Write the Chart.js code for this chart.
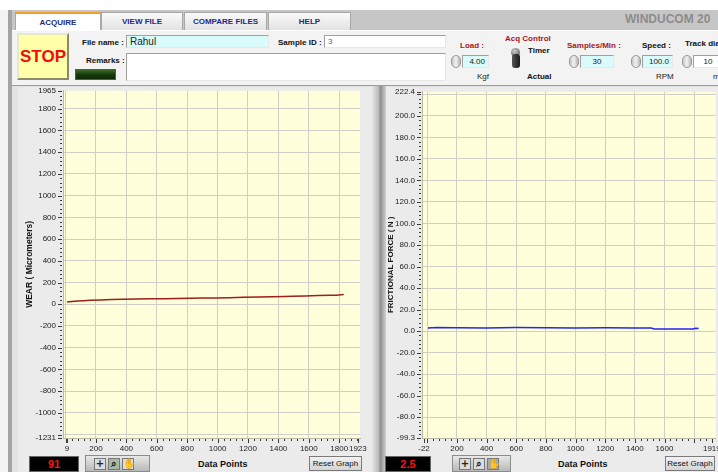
<!DOCTYPE html>
<html>
<head>
<meta charset="utf-8">
<script src="https://cdn.jsdelivr.net/npm/chart.js@4.4.1/dist/chart.umd.min.js"></script>
<style>
  html, body { margin: 0; padding: 0; }
  body { width: 718px; height: 472px; position: relative; overflow: hidden; background: #fff;
         font-family: "Liberation Sans", Arial, sans-serif; }
  .abs { position: absolute; box-sizing: border-box; }
  .tab { position: absolute; top: 12px; height: 18px; font: bold 8px "Liberation Sans", Arial, sans-serif;
         color: #1d2a8a; text-align: center; line-height: 17px; border: 1px solid #a8a8a8; border-bottom: none;
         background: linear-gradient(#fafafa, #e2e2e2); box-sizing: border-box; }
  .lbl { position: absolute; font: bold 8px "Liberation Sans", Arial, sans-serif; color: #111; white-space: nowrap; }
  .red { color: #a8141c; }
  .small { position: absolute; font: 8px "Liberation Sans", Arial, sans-serif; color: #222; white-space: nowrap; }
  .field { position: absolute; border: 1px solid #a0a0a0; border-right-color: #e8e8e8; border-bottom-color: #e8e8e8;
           background: #fff; box-sizing: border-box; font: 8px "Liberation Sans", Arial, sans-serif; color: #222;
           padding: 1px 3px; white-space: nowrap; overflow: hidden; }
  .cyan { background: #d9fbfb; }
  .spin { position: absolute; width: 10px; height: 13px; border-radius: 5px; background: linear-gradient(90deg, #c8c8c8, #f2f2f2, #b4b4b4);
          border: 1px solid #9a9a9a; box-sizing: border-box; }
  .panel { position: absolute; background: #ebebeb; }
  .digit { position: absolute; background: #000; color: #ff1010; font: bold 11px "Liberation Sans", Arial, sans-serif;
           text-align: center; line-height: 15px; border: 1px solid #666; box-sizing: border-box; }
  .tools { position: absolute; height: 17px; background: linear-gradient(#e8e8e8, #b8b8b8); border: 1px solid #8c8c8c; box-sizing: border-box; }
  .tool { position: absolute; top: 2px; width: 12px; height: 12px; border: 1px solid #777; background: #dcdcdc; box-sizing: border-box;
          font: bold 10px "DejaVu Sans", sans-serif; line-height: 10px; text-align: center; color: #222; }
  .btn { position: absolute; height: 15px; background: linear-gradient(#f2f2f2, #d4d4d4); border: 1px solid #7a7a7a;
         font: 8px "Liberation Sans", Arial, sans-serif; color: #111; text-align: center; line-height: 13px; box-sizing: border-box; }
  canvas { position: absolute; }
</style>
</head>
<body>
<!-- window frame -->
<div class="abs" style="left:0;top:10px;width:8px;height:462px;background:#f3f3f3;"></div>
<div class="abs" style="left:8px;top:10px;width:4px;height:462px;background:#a4a4a4;"></div>
<div class="abs" style="left:12px;top:10px;width:706px;height:20px;background:#c6c6c6;"></div>
<div class="abs" style="left:12px;top:30px;width:706px;height:56px;background:#f3f3f3;border-top:1px solid #fff;border-bottom:1px solid #9c9c9c;"></div>
<div class="abs" style="left:12px;top:86px;width:706px;height:386px;background:#e2e2e2;"></div>

<!-- tabs -->
<div class="tab" style="left:15px;width:86px;background:#fff;border-top:2px solid #f0a028;">ACQUIRE</div>
<div class="tab" style="left:101px;width:82px;">VIEW FILE</div>
<div class="tab" style="left:184px;width:83px;">COMPARE FILES</div>
<div class="tab" style="left:268px;width:83px;">HELP</div>
<div class="lbl" style="left:625px;top:12px;font-size:12px;color:#8c8c8c;">WINDUCOM 20</div>

<!-- controls -->
<div class="abs" style="left:17px;top:33px;width:52px;height:47px;background:#ffffa8;border:2px solid #8a8a6a;border-top-color:#e8e8c8;border-left-color:#e8e8c8;
  color:#f40b0b;font:bold 17px 'Liberation Sans',Arial,sans-serif;text-align:center;line-height:43px;">STOP</div>
<div class="lbl" style="left:82px;top:38px;">File name :</div>
<div class="field cyan" style="left:126px;top:35px;width:143px;height:13px;font-size:10px;line-height:9px;">Rahul</div>
<div class="lbl" style="left:278px;top:38px;">Sample ID :</div>
<div class="field" style="left:324px;top:35px;width:122px;height:13px;color:#666;line-height:9px;">3</div>
<div class="lbl" style="left:86px;top:56px;">Remarks :</div>
<div class="field" style="left:126px;top:53px;width:320px;height:28px;"></div>
<div class="abs" style="left:75px;top:69px;width:41px;height:11px;background:linear-gradient(#3e6a2a,#163a0c 50%,#0e2a06);border:1px solid #555;"></div>

<div class="lbl red" style="left:460px;top:41px;">Load :</div>
<div class="spin" style="left:451px;top:55px;"></div>
<div class="field cyan" style="left:462px;top:55px;width:27px;height:13px;text-align:right;line-height:9px;">4.00</div>
<div class="small" style="left:477px;top:72px;">Kgf</div>

<div class="lbl red" style="left:505px;top:34px;">Acq Control</div>
<div class="abs" style="left:511px;top:48px;width:9px;height:9px;border-radius:5px;background:radial-gradient(circle at 40% 35%,#cfcfcf,#444);"></div>
<div class="abs" style="left:512px;top:54px;width:8px;height:14px;border-radius:3px;background:linear-gradient(90deg,#555,#1a1a1a);"></div>
<div class="lbl" style="left:528px;top:46px;">Timer</div>
<div class="lbl" style="left:527px;top:72px;">Actual</div>

<div class="lbl red" style="left:567px;top:41px;">Samples/Min :</div>
<div class="spin" style="left:569px;top:55px;"></div>
<div class="field cyan" style="left:580px;top:55px;width:34px;height:13px;text-align:center;line-height:9px;">30</div>

<div class="lbl" style="left:642px;top:41px;">Speed :</div>
<div class="spin" style="left:631px;top:55px;"></div>
<div class="field cyan" style="left:642px;top:55px;width:31px;height:13px;text-align:right;line-height:9px;">100.0</div>
<div class="small" style="left:656px;top:72px;">RPM</div>

<div class="lbl" style="left:685px;top:39px;">Track dia</div>
<div class="spin" style="left:682px;top:55px;"></div>
<div class="field" style="left:693px;top:55px;width:30px;height:13px;text-align:center;line-height:9px;">10</div>
<div class="small" style="left:713px;top:72px;">m</div>

<!-- graph panels -->
<div class="panel" style="left:18px;top:87px;width:355px;height:385px;"></div>
<div class="abs" style="left:372px;top:86px;width:14px;height:386px;background:linear-gradient(90deg,#e6e6e6,#bdbdbd 45%,#8e8e8e 60%,#d0d0d0);"></div>
<div class="panel" style="left:386px;top:87px;width:332px;height:385px;"></div>

<canvas id="wearChart" style="left:20px;top:79px;" width="353" height="374"></canvas>
<canvas id="frictionChart" style="left:386px;top:80px;" width="332" height="373"></canvas>

<!-- bottom strips -->
<div class="digit" style="left:29px;top:456px;width:50px;height:16px;">91</div>
<div class="tools" style="left:85px;top:455px;width:65px;">
  <div class="tool" style="left:8px;">+</div><div class="tool" style="left:22px;background:#a6b8a6;">&#8981;</div><div class="tool" style="left:36px;">&#9995;</div>
</div>
<div class="lbl" style="left:198px;top:459px;font-size:9px;">Data Points</div>
<div class="btn" style="left:309px;top:456px;width:53px;">Reset Graph</div>

<div class="digit" style="left:385px;top:456px;width:46px;height:16px;">2.5</div>
<div class="tools" style="left:452px;top:455px;width:59px;">
  <div class="tool" style="left:6px;">+</div><div class="tool" style="left:20px;">&#8981;</div><div class="tool" style="left:34px;background:#a9a9a9;">&#9995;</div>
</div>
<div class="lbl" style="left:558px;top:459px;font-size:9px;">Data Points</div>
<div class="btn" style="left:665px;top:456px;width:50px;">Reset Graph</div>

<script>
// wear graph (left)
var wearX = [9, 40, 80, 120, 160, 230, 300, 380, 470, 560, 650, 730, 820, 900, 990, 1080, 1170, 1270, 1360, 1440, 1490, 1580, 1660, 1740, 1780, 1830];
var wearY = [22, 26, 31, 33, 36, 40, 43, 46, 49, 50, 51, 52, 55, 57, 58, 61, 64, 67, 70, 72, 74, 77, 80, 82, 84, 89];
var wearXLabels = [9, 200, 400, 600, 800, 1000, 1200, 1400, 1600, 1800, 1923];
var wearYLabels = [1965, 1800, 1600, 1400, 1200, 1000, 800, 600, 400, 200, 0, -200, -400, -600, -800, -1000, -1231];

// frictional force graph (right)
var fricX = [5, 60, 200, 400, 600, 800, 1000, 1200, 1400, 1510, 1530, 1700, 1790, 1810, 1830];
var fricY = [3.0, 3.4, 3.1, 3.0, 3.3, 3.1, 3.0, 3.2, 3.0, 2.9, 2.1, 2.0, 2.0, 2.6, 2.5];
var fricXLabels = [-22, 200, 400, 600, 800, 1000, 1200, 1400, 1600, 1919];
var fricYLabels = [222.4, 200, 180, 160, 140, 120, 100, 80, 60, 40, 20, 0, -20, -40, -60, -80, -99.3];

function makeTicks(labels, lo, hi, major, minor) {
  var out = [];
  var first = Math.ceil(lo / minor) * minor;
  for (var v = first; v <= hi + 1e-9; v += minor) {
    var val = Math.round(v * 1000) / 1000;
    var isLab = labels.indexOf(val) >= 0;
    var isGrid = Math.abs(val / major - Math.round(val / major)) < 1e-6;
    out.push({ value: val, lab: isLab, grid: isGrid, big: isLab || isGrid });
  }
  labels.forEach(function (l) {
    if (!out.some(function (t) { return t.value === l; })) out.push({ value: l, lab: true, grid: false, big: true });
  });
  out.sort(function (a, b) { return a.value - b.value; });
  return out;
}

var plotFrame = {
  id: 'plotFrame',
  beforeDraw: function (chart) {
    var ctx = chart.ctx, a = chart.chartArea;
    ctx.save();
    ctx.fillStyle = '#ffffdc';
    ctx.fillRect(a.left, a.top, a.right - a.left, a.bottom - a.top);
    ctx.restore();
  },
  afterDraw: function (chart) {
    var ctx = chart.ctx, a = chart.chartArea, sx = chart.scales.x, sy = chart.scales.y;
    ctx.save();
    ctx.strokeStyle = '#3a3a3a';
    ctx.lineWidth = 1;
    ctx.beginPath();
    sx.ticks.forEach(function (t) {
      var p = Math.round(sx.getPixelForValue(t.value)) + 0.5;
      if (p < a.left - 1 || p > chart.width) return;
      ctx.moveTo(p, a.bottom + 1);
      ctx.lineTo(p, a.bottom + (t.big ? 5 : 3));
    });
    sy.ticks.forEach(function (t) {
      var p = Math.round(sy.getPixelForValue(t.value)) + 0.5;
      ctx.moveTo(a.left - 1, p);
      ctx.lineTo(a.left - (t.big ? 5 : 3), p);
    });
    ctx.stroke();
    ctx.restore();
  }
};

function buildChart(id, xs, ys, color, xr, yr, xLabels, yLabels, yMajor, yMinor, yTitle, titleSize, yWidth, pad, yFmt) {
  var pts = xs.map(function (x, i) { return { x: x, y: ys[i] }; });
  var tickFont = { family: '"Liberation Sans", Arial, sans-serif', size: 8 };
  return new Chart(document.getElementById(id), {
    type: 'line',
    data: {
      datasets: [{
        data: pts,
        borderColor: color,
        borderWidth: 1.5,
        pointRadius: 0,
        tension: 0
      }]
    },
    options: {
      animation: false,
      responsive: false,
      events: [],
      layout: { autoPadding: false, padding: pad },
      plugins: { legend: { display: false }, tooltip: { enabled: false } },
      scales: {
        x: {
          type: 'linear',
          min: xr[0], max: xr[1],
          afterBuildTicks: function (s) { s.ticks = makeTicks(xLabels, xr[0], xr[1], 200, 40); },
          afterFit: function (s) { s.height = 15; },
          grid: {
            drawTicks: false,
            lineWidth: 1,
            color: function (c) { return c.tick && c.tick.grid ? '#cfcfc4' : 'rgba(0,0,0,0)'; }
          },
          border: { display: true, color: '#b8b8a8' },
          ticks: {
            autoSkip: false, maxRotation: 0, padding: 6, color: '#222', font: tickFont,
            callback: function (v, i, t) { return t[i].lab ? String(v) : ''; }
          }
        },
        y: {
          type: 'linear',
          min: yr[0], max: yr[1],
          afterBuildTicks: function (s) { s.ticks = makeTicks(yLabels, yr[0], yr[1], yMajor, yMinor); },
          afterFit: function (s) { s.width = yWidth; },
          grid: {
            drawTicks: false,
            lineWidth: 1,
            color: function (c) { return c.tick && c.tick.grid ? '#cfcfc4' : 'rgba(0,0,0,0)'; }
          },
          border: { display: true, color: '#b8b8a8' },
          title: {
            display: true, text: yTitle, color: '#111', padding: 0,
            font: { family: '"Liberation Sans", Arial, sans-serif', size: titleSize, weight: 'bold' }
          },
          ticks: {
            autoSkip: false, padding: 7, color: '#222', font: tickFont,
            callback: function (v, i, t) { return t[i].lab ? yFmt(v) : ''; }
          }
        }
      }
    },
    plugins: [plotFrame]
  });
}

buildChart('wearChart', wearX, wearY, '#9c1f1a', [-17, 1937], [-1231, 1965],
  wearXLabels, wearYLabels, 200, 40, 'WEAR ( Micrometers)', 8.5, 38,
  { left: 5, top: 0, right: 13, bottom: 0 }, function (v) { return String(v); });

buildChart('frictionChart', fricX, fricY, '#2626f0', [-35.5, 1945.6], [-99.3, 222.4],
  fricXLabels, fricYLabels, 20, 4, 'FRICTIONAL FORCE ( N )', 8, 36,
  { left: 0, top: 1, right: 2, bottom: 0 }, function (v) { return v.toFixed(1); });
</script>
</body>
</html>
